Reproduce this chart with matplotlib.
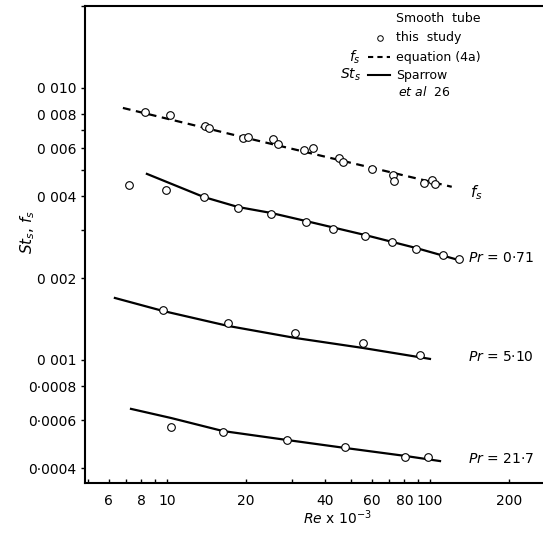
import matplotlib
matplotlib.use("Agg")
import matplotlib.pyplot as plt
from matplotlib.lines import Line2D
from matplotlib.ticker import FixedLocator, NullFormatter

# friction factor f_s, this study
fs_re = [8.25, 10.26, 13.95, 14.45, 19.45, 20.3, 25.3, 26.4, 33.2, 35.9,
         45.1, 46.7, 60.1, 72.3, 73.0, 94.9, 101.8, 104.5]
fs_val = [0.00816, 0.00796, 0.00725, 0.00713, 0.00655, 0.00661, 0.00650,
          0.00622, 0.00592, 0.00602, 0.00553, 0.00535, 0.00504, 0.00479,
          0.00455, 0.00448, 0.00459, 0.00444]
# equation (4a)
eq_re = [6.8, 20.0, 121.0]
eq_val = [0.00844, 0.00655, 0.00433]

# St_s, Pr = 0.71
st071_re = [7.17, 9.91, 13.82, 18.62, 24.9, 33.8, 42.8, 56.6, 71.7, 88.5, 112.1, 128.8]
st071_val = [0.00440, 0.00422, 0.00397, 0.00362, 0.00344, 0.00322, 0.00303,
             0.00286, 0.00272, 0.00256, 0.00243, 0.00235]
sp071_re = [8.39, 13.82, 18.62, 24.9, 33.8, 56.6, 88.5, 124.5]
sp071_val = [0.00483, 0.00397, 0.00365, 0.00347, 0.00324, 0.00288, 0.00258, 0.00235]

# St_s, Pr = 5.10
st510_re = [9.66, 17.06, 30.7, 55.6, 91.6]
st510_val = [0.001527, 0.001368, 0.001257, 0.001155, 0.001043]
sp510_re = [6.34, 9.66, 17.06, 30.7, 55.6, 100.0]
sp510_val = [0.00169, 0.001514, 0.001334, 0.001205, 0.001107, 0.001009]

# St_s, Pr = 21.7
st217_re = [10.36, 16.32, 28.6, 47.5, 80.4, 98.3]
st217_val = [0.000567, 0.000544, 0.000508, 0.000479, 0.000440, 0.000440]
sp217_re = [7.30, 10.36, 16.32, 28.6, 47.5, 80.4, 109.2]
sp217_val = [0.000661, 0.000612, 0.000548, 0.000508, 0.000475, 0.000444, 0.000425]

xticks = [6, 8, 10, 20, 40, 60, 80, 100, 200]
xlabels = ["6", "8", "10", "20", "40", "60", "80", "100", "200"]
yticks = [0.010, 0.008, 0.006, 0.004, 0.002, 0.001, 0.0008, 0.0006, 0.0004]
ylabels = ["0 010", "0 008", "0 006", "0 004", "0 002", "0 001",
           "0·0008", "0·0006", "0·0004"]

W, H = 543, 539
fig = plt.figure(figsize=(W / 100, H / 100), dpi=100)
ax = fig.add_axes([85 / W, 1 - 483 / H, 1 - 85 / W, (483 - 6) / H])
ax.set_xscale("log")
ax.set_yscale("log")
ax.set_xlim(4.88, 269)
ax.set_ylim(0.000353, 0.02)

k = "black"
mk = dict(ls="none", marker="o", ms=5.5, mfc="white", mec=k, mew=0.8, zorder=3)
ax.plot(eq_re, eq_val, color=k, lw=1.6, ls=(0, (3.5, 2.5)))
ax.plot(fs_re, fs_val, **mk)
for re_, v_ in [(sp071_re, sp071_val), (sp510_re, sp510_val), (sp217_re, sp217_val)]:
    ax.plot(re_, v_, color=k, lw=1.6)
for re_, v_ in [(st071_re, st071_val), (st510_re, st510_val), (st217_re, st217_val)]:
    ax.plot(re_, v_, **mk)

ax.spines["right"].set_visible(False)
for s in ["left", "bottom", "top"]:
    ax.spines[s].set_linewidth(1.5)

ax.xaxis.set_major_locator(FixedLocator(xticks))
ax.set_xticklabels(xlabels)
ax.xaxis.set_minor_locator(FixedLocator([5, 7, 9, 30, 50, 70, 90]))
ax.xaxis.set_minor_formatter(NullFormatter())
ax.yaxis.set_major_locator(FixedLocator(yticks))
ax.set_yticklabels(ylabels)
ax.yaxis.set_minor_locator(FixedLocator([0.02, 0.007, 0.005, 0.003]))
ax.yaxis.set_minor_formatter(NullFormatter())
ax.tick_params(axis="x", which="both", direction="in", length=3, width=1, labelsize=10, pad=8)
ax.tick_params(axis="y", which="both", direction="out", length=3, width=1, labelsize=10, pad=3)
ax.tick_params(top=False, right=False)

fig.text(337 / W, 1 - 518 / H, r"$\mathit{Re}$ x 10$^{-3}$", fontsize=10,
         ha="center", va="center")
fig.text(28 / W, 1 - 232 / H, r"$\mathit{St_s}$, $\mathit{f_s}$", rotation=90,
         fontsize=11, ha="center", va="center")

# curve labels
fig.text(470 / W, 1 - 193 / H, r"$\mathit{f_s}$", fontsize=11, va="center")
for y_, s_ in [(258, "0·71"), (357, "5·10"), (459, "21·7")]:
    fig.text(468 / W, 1 - y_ / H, r"$\mathit{Pr}$ = " + s_, fontsize=10, va="center")

# legend
tx = 396 / W
fs_leg = 9
fig.text(tx, 1 - 19 / H, "Smooth  tube", fontsize=fs_leg, va="center")
fig.text(tx, 1 - 38 / H, "this  study", fontsize=fs_leg, va="center")
fig.text(tx, 1 - 57 / H, "equation (4a)", fontsize=fs_leg, va="center")
fig.text(tx, 1 - 75 / H, "Sparrow", fontsize=fs_leg, va="center")
fig.text(tx + 2 / W, 1 - 92 / H, r"$\mathit{et\ al}$  26", fontsize=fs_leg, va="center")
fig.add_artist(Line2D([380 / W], [1 - 38 / H], ls="none", marker="o", ms=4,
                      mfc="white", mec=k, mew=0.7))
fig.add_artist(Line2D([368 / W, 390 / W], [1 - 57 / H] * 2, color=k, lw=1.5,
                      ls=(0, (2.5, 2))))
fig.add_artist(Line2D([368 / W, 390 / W], [1 - 75 / H] * 2, color=k, lw=1.5))
fig.text(361 / W, 1 - 57 / H, r"$\mathit{f_s}$", fontsize=10, ha="right", va="center")
fig.text(361 / W, 1 - 75 / H, r"$\mathit{St_s}$", fontsize=10, ha="right", va="center")

fig.savefig("out.png", dpi=100)
